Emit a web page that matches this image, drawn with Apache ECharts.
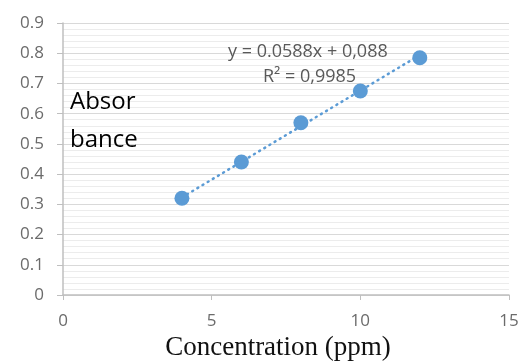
<!DOCTYPE html>
<html>
<head>
<meta charset="utf-8">
<script src="https://cdn.jsdelivr.net/npm/echarts@6/dist/echarts.min.js"></script>
<style>
  html, body { margin: 0; padding: 0; background: #fff; }
  #chart { width: 523px; height: 361px; }
</style>
</head>
<body>
<div id="chart"></div>
<script>
// Calibration points
const concentration = [4, 6, 8, 10, 12]
const absorbance = [0.32, 0.44, 0.57, 0.675, 0.785]

// Linear trendline end points (as drawn)
const trendX = [4, 12]
const trendY = [0.323, 0.794]

const equationText = "y = 0.0588x + 0,088"
const r2Text = "R\u00b2 = 0,9985"

const chart = echarts.init(document.getElementById("chart"))

const option = {
  animation: false,
  grid: { left: 63, right: 14, top: 23, bottom: 66, outerBoundsMode: "none", containLabel: false },
  xAxis: {
    type: "value",
    min: 0,
    max: 15,
    interval: 5,
    name: "Concentration (ppm)",
    nameLocation: "middle",
    nameGap: 39,
    nameTextStyle: { fontFamily: "Liberation Serif", fontSize: 27, color: "#111", padding: [0, 16, 0, 0] },
    axisLine: { show: true, onZero: false, lineStyle: { color: "#bfbfbf", width: 1.5 } },
    axisTick: { show: true, length: 5, lineStyle: { color: "#bfbfbf" } },
    axisLabel: { fontFamily: "Open Sans", fontSize: 17, color: "#6b6b6b", margin: 18 },
    splitLine: { show: false },
  },
  yAxis: {
    type: "value",
    min: 0,
    max: 0.9,
    interval: 0.1,
    axisLine: { show: true, lineStyle: { color: "#bfbfbf", width: 1.5 } },
    axisTick: { show: true, length: 6, lineStyle: { color: "#bfbfbf" } },
    axisLabel: { fontFamily: "Open Sans", fontSize: 17, color: "#6b6b6b", margin: 19 },
    splitLine: { show: true, lineStyle: { color: "#d9d9d9", width: 1 } },
    minorTick: { show: false, splitNumber: 5 },
    minorSplitLine: { show: true, lineStyle: { color: "#ececec", width: 1 } },
  },
  series: [
    {
      type: "line",
      data: trendX.map((x, i) => [x, trendY[i]]),
      showSymbol: false,
      lineStyle: { color: "#5b9bd5", width: 2.5, type: [1, 5], cap: "round" },
      z: 2,
    },
    {
      type: "scatter",
      data: concentration.map((x, i) => [x, absorbance[i]]),
      symbolSize: 15,
      itemStyle: { color: "#5b9bd5", opacity: 1 },
      z: 3,
    },
  ],
  graphic: [
    {
      type: "text",
      left: 70,
      top: 83,
      z: 100,
      style: {
        text: "Absor\nbance",
        font: "24px 'Open Sans'",
        lineHeight: 38,
        fill: "#000",
      },
    },
    {
      type: "text",
      left: 228,
      top: 43,
      z: 100,
      style: { text: equationText, font: "18px 'Open Sans'", fill: "#595959" },
    },
    {
      type: "text",
      left: 263,
      top: 68,
      z: 100,
      style: { text: r2Text, font: "18px 'Open Sans'", fill: "#595959" },
    },
  ],
}

chart.setOption(option)
</script>
</body>
</html>
